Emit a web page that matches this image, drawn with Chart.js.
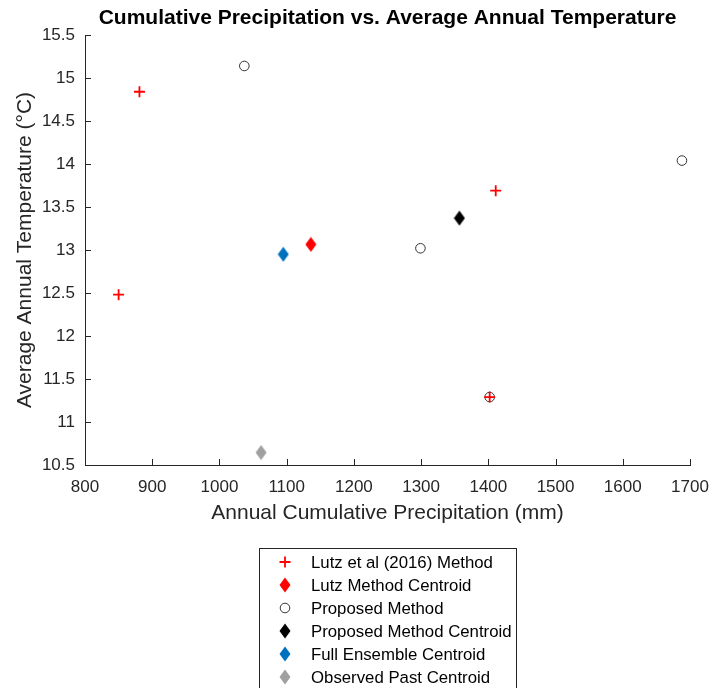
<!DOCTYPE html>
<html>
<head>
<meta charset="utf-8">
<script src="https://cdn.jsdelivr.net/npm/chart.js@4/dist/chart.umd.min.js"></script>
<style>
  html, body { margin: 0; padding: 0; background: #fff; }
  #wrap { width: 715px; height: 688px; }
</style>
</head>
<body>
<div id="wrap"><canvas id="scatterChart" width="715" height="688"></canvas></div>
<script>
"use strict";

// Values
const lutzPrecip = [881, 850, 1411, 1402];
const lutzTemp = [14.84, 12.48, 13.69, 11.29];

const proposedPrecip = [1037, 1688, 1299, 1402];
const proposedTemp = [15.14, 14.04, 13.02, 11.29];

const lutzCentroid = [1136, 13.065];
const proposedCentroid = [1357, 13.37];
const ensembleCentroid = [1095, 12.95];
const observedCentroid = [1062, 10.645];

const seriesNames = [
  "Lutz et al (2016) Method",
  "Lutz Method Centroid",
  "Proposed Method",
  "Proposed Method Centroid",
  "Full Ensemble Centroid",
  "Observed Past Centroid",
];

const xTicks = [800, 900, 1000, 1100, 1200, 1300, 1400, 1500, 1600, 1700];
const yTicks = [10.5, 11, 11.5, 12, 12.5, 13, 13.5, 14, 14.5, 15, 15.5];

const chartTitle = "Cumulative Precipitation vs. Average Annual Temperature";
const xTitle = "Annual Cumulative Precipitation (mm)";
const yTitle = "Average Annual Temperature (\u00B0C)";

const FONT = "'Liberation Sans', Arial, Helvetica, sans-serif";
const AXIS_COLOR = "#262626";

function toPoints(xs, ys) {
  return xs.map((x, i) => ({ x: x, y: ys[i] }));
}

// MATLAB diamonds are a bit taller than wide, so draw them into a small canvas
function makeDiamond(color) {
  const w = 12, h = 16;
  const c = document.createElement("canvas");
  c.width = w;
  c.height = h;
  const g = c.getContext("2d");
  g.fillStyle = color;
  g.beginPath();
  g.moveTo(w / 2, 0.5);
  g.lineTo(w - 0.5, h / 2);
  g.lineTo(w / 2, h - 0.5);
  g.lineTo(0.5, h / 2);
  g.closePath();
  g.fill();
  return c;
}

function centroidSet(label, point, color) {
  return {
    label: label,
    data: [{ x: point[0], y: point[1] }],
    pointStyle: makeDiamond(color),
    pointRadius: 8,
    borderColor: color,
    backgroundColor: color,
  };
}

const datasets = [
  {
    label: seriesNames[0],
    data: toPoints(lutzPrecip, lutzTemp),
    pointStyle: "cross",
    pointRadius: 5.5,
    pointBorderWidth: 1.8,
    borderColor: "#ff0000",
    backgroundColor: "#ff0000",
  },
  centroidSet(seriesNames[1], lutzCentroid, "#ff0000"),
  {
    label: seriesNames[2],
    data: toPoints(proposedPrecip, proposedTemp),
    pointStyle: "circle",
    pointRadius: 4.8,
    pointBorderWidth: 1,
    borderColor: "#333333",
    backgroundColor: "rgba(0,0,0,0)",
  },
  centroidSet(seriesNames[3], proposedCentroid, "#000000"),
  centroidSet(seriesNames[4], ensembleCentroid, "#0072bd"),
  centroidSet(seriesNames[5], observedCentroid, "#a0a0a0"),
];

// MATLAB-like inward tick marks, title and boxed legend
const matlabStyle = {
  id: "matlabStyle",
  afterDraw(chart) {
    const ctx = chart.ctx;
    const xs = chart.scales.x;
    const ys = chart.scales.y;
    const area = chart.chartArea;

    ctx.save();
    ctx.strokeStyle = AXIS_COLOR;
    ctx.lineWidth = 1;
    ctx.beginPath();
    xTicks.forEach((v) => {
      const px = Math.round(xs.getPixelForValue(v)) + 0.5;
      ctx.moveTo(px, area.bottom);
      ctx.lineTo(px, area.bottom - 6);
    });
    yTicks.forEach((v) => {
      const py = Math.round(ys.getPixelForValue(v)) + 0.5;
      ctx.moveTo(area.left, py);
      ctx.lineTo(area.left + 6, py);
    });
    ctx.stroke();

    // title
    ctx.fillStyle = "#000";
    ctx.font = "bold 21px " + FONT;
    ctx.textAlign = "center";
    ctx.textBaseline = "middle";
    ctx.fillText(chartTitle, (area.left + area.right) / 2, 18);

    // legend
    const boxLeft = 259.5, boxTop = 548.5, boxW = 257, boxH = 150;
    ctx.fillStyle = "#fff";
    ctx.fillRect(boxLeft, boxTop, boxW, boxH);
    ctx.strokeStyle = AXIS_COLOR;
    ctx.strokeRect(boxLeft, boxTop, boxW, boxH);

    ctx.font = "16.8px " + FONT;
    ctx.textAlign = "left";
    chart.data.datasets.forEach((ds, i) => {
      const cy = 562 + i * 23;
      ctx.fillStyle = ds.backgroundColor;
      ctx.strokeStyle = ds.borderColor;
      ctx.lineWidth = ds.pointBorderWidth || 1;
      Chart.helpers.drawPoint(ctx, {
        pointStyle: ds.pointStyle,
        radius: ds.pointRadius,
        rotation: 0,
        borderWidth: ds.pointBorderWidth || 1,
      }, 285, cy);
      ctx.fillStyle = "#000";
      ctx.fillText(ds.label, 311, cy + 1);
    });
    ctx.restore();
  },
};

new Chart(document.getElementById("scatterChart"), {
  type: "scatter",
  data: { datasets: datasets },
  options: {
    responsive: false,
    animation: false,
    layout: { padding: { left: 0, right: 25, top: 35, bottom: 161 } },
    plugins: {
      legend: { display: false },
      tooltip: { enabled: false },
      title: { display: false },
    },
    scales: {
      x: {
        type: "linear",
        min: xTicks[0],
        max: xTicks[xTicks.length - 1],
        afterBuildTicks: (s) => { s.ticks = xTicks.map((v) => ({ value: v })); },
        afterFit: (s) => {
          s.height = 62;
          s.paddingLeft = 0;
          s.paddingRight = 0;
        },
        grid: { display: false, drawTicks: false },
        border: { display: true, color: AXIS_COLOR, width: 1 },
        ticks: {
          color: AXIS_COLOR,
          font: { family: FONT, size: 17 },
          padding: 12,
          maxRotation: 0,
          callback: (v) => String(v),
        },
        title: {
          display: true,
          text: xTitle,
          color: AXIS_COLOR,
          font: { family: FONT, size: 21 },
          padding: { top: 0, bottom: 1 },
        },
      },
      y: {
        type: "linear",
        min: yTicks[0],
        max: yTicks[yTicks.length - 1],
        afterBuildTicks: (s) => { s.ticks = yTicks.map((v) => ({ value: v })); },
        afterFit: (s) => {
          s.width = 85;
          s.paddingTop = 0;
          s.paddingBottom = 0;
        },
        grid: { display: false, drawTicks: false },
        border: { display: true, color: AXIS_COLOR, width: 1 },
        ticks: {
          color: AXIS_COLOR,
          font: { family: FONT, size: 17 },
          padding: 10,
          callback: (v) => String(v),
        },
        title: {
          display: true,
          text: yTitle,
          color: AXIS_COLOR,
          font: { family: FONT, size: 21 },
          padding: { top: 13, bottom: 0 },
        },
      },
    },
  },
  plugins: [matlabStyle],
});
</script>
</body>
</html>
